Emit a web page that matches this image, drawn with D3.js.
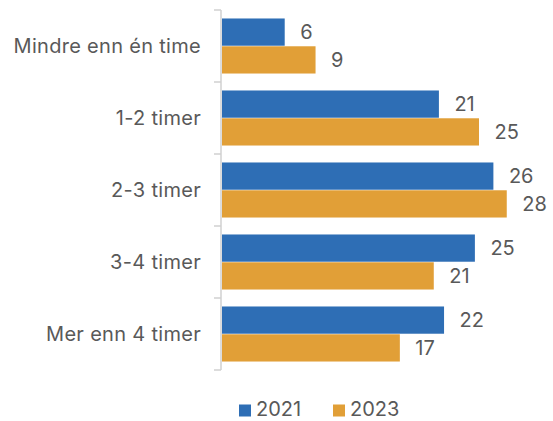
<!DOCTYPE html>
<html><head><meta charset="utf-8">
<script src="https://cdn.jsdelivr.net/npm/d3@7"></script>
<style>body{margin:0;background:#fff;} text{font-family:Inter,Roboto,"Noto Sans",sans-serif;fill:#595959;}</style>
</head><body><svg id="c" width="553" height="421"></svg>
<script>
const categories = ["Mindre enn én time","1-2 timer","2-3 timer","3-4 timer","Mer enn 4 timer"];
const seriesNames = ["2021","2023"];
const values2021 = [6.1, 21.1, 26.4, 24.6, 21.6];
const values2023 = [9.1, 25.0, 27.7, 20.6, 17.3];
const colors = ["#2E6EB5","#E19F37"];

(function(){
const svg = d3.select("#c");
const x0 = 222, yTop = 10, yBottom = 370;
const x = d3.scaleLinear().domain([0, 30]).range([x0, x0 + 308.4]);
const y = d3.scaleBand().domain(categories).range([yTop, yBottom]).paddingInner(0.22).paddingOuter(0.11);
const ySub = d3.scaleBand().domain(seriesNames).range([0, y.bandwidth()]).padding(0.02);
const yOuter = d3.scaleBand().domain(categories).range([yTop, yBottom]);

// axis
const ax = svg.append("g").attr("transform", `translate(${x0-1},0)`);
ax.append("line").attr("y1", yTop).attr("y2", yBottom).attr("stroke", "#d0d0d0").attr("stroke-width", 1.5);
const bounds = categories.map(c => yOuter(c)).concat([yBottom]);
ax.selectAll("line.t").data(bounds).join("line").attr("class","t")
  .attr("x1", -7).attr("x2", 0).attr("y1", d => d).attr("y2", d => d)
  .attr("stroke", "#d0d0d0").attr("stroke-width", 1.5);

svg.selectAll("text.cat").data(categories).join("text").attr("class","cat")
  .attr("x", 201).attr("y", d => yOuter(d) + yOuter.bandwidth()/2)
  .attr("text-anchor","end").attr("dominant-baseline","central")
  .style("font-size","20px").style("letter-spacing","0.3px").text(d => d);

const series = [values2021, values2023];
series.forEach((vals, si) => {
  const g = svg.append("g");
  const data = categories.map((c, i) => ({c, v: vals[i]}));
  g.selectAll("rect").data(data).join("rect")
    .attr("x", x(0)).attr("y", d => y(d.c) + ySub(seriesNames[si]))
    .attr("width", d => x(d.v) - x(0)).attr("height", ySub.bandwidth())
    .attr("fill", colors[si]);
  g.selectAll("text").data(data).join("text")
    .attr("x", d => x(d.v) + 15.5).attr("y", d => y(d.c) + ySub(seriesNames[si]) + ySub.bandwidth()/2)
    .attr("dominant-baseline","central").style("font-size","20px")
    .text(d => d3.format(".0f")(d.v));
});

// legend
const legX = [239, 333];
seriesNames.forEach((s, i) => {
  svg.append("rect").attr("x", legX[i]).attr("y", 404.5).attr("width", 12).attr("height", 12).attr("fill", colors[i]);
  svg.append("text").attr("x", legX[i] + 17).attr("y", 409).attr("dominant-baseline","central")
    .style("font-size","20px").text(s);
});
})();
</script></body></html>
